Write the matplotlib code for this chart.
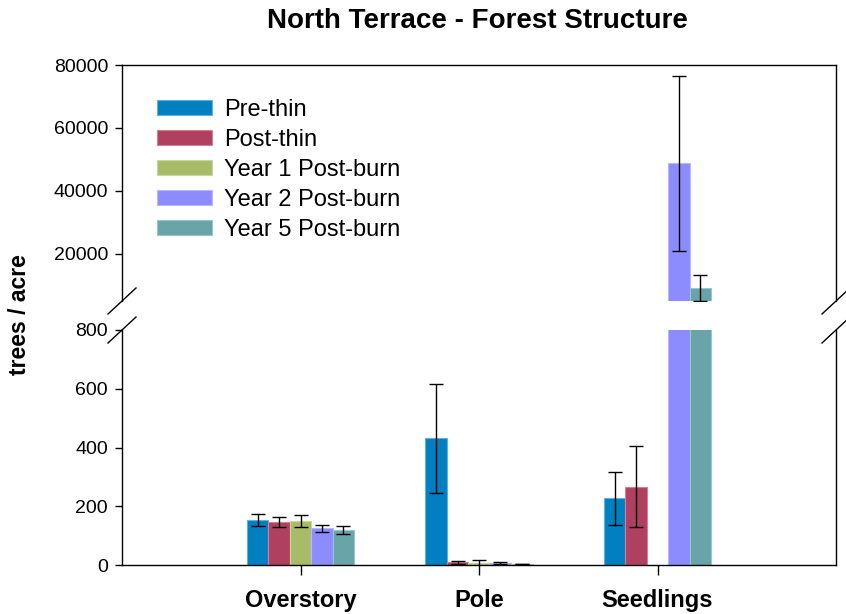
import matplotlib
matplotlib.use("Agg")
import matplotlib.pyplot as plt
import numpy as np

plt.rcParams['font.family'] = ['Liberation Sans', 'DejaVu Sans']

categories = ["Overstory", "Pole", "Seedlings"]
series = ["Pre-thin", "Post-thin", "Year 1 Post-burn", "Year 2 Post-burn", "Year 5 Post-burn"]
pre_thin = [153, 431, 227]
pre_thin_err = [20, 186, 90]
post_thin = [147, 9, 267]
post_thin_err = [16, 6, 137]
year1 = [150, 8, np.nan]
year1_err = [19, 10, np.nan]
year2 = [125, 6, 48700]
year2_err = [11, 3, 27800]
year5 = [119, 2, 9100]
year5_err = [13, 0, 4200]

upper_ticks = [20000, 40000, 60000, 80000]
lower_ticks = [0, 200, 400, 600, 800]

colors = ["#0080C0", "#B04060", "#A8BC68", "#8C8CFF", "#68A4A8"]
edges = ["#60B0E0", "#D08098", "#C8D898", "#B8B8FF", "#98C8CC"]
values = [pre_thin, post_thin, year1, year2, year5]
errors = [pre_thin_err, post_thin_err, year1_err, year2_err, year5_err]

W, H = 846, 614
fig = plt.figure(figsize=(W / 100, H / 100), dpi=100)
left, right = 122 / W, 836 / W
ax_top = fig.add_axes([left, 1 - 301 / H, right - left, 236 / H])
ax_bot = fig.add_axes([left, 1 - 565 / H, right - left, 235 / H])

x = np.arange(1, len(categories) + 1)
width = 0.12
offsets = (np.arange(len(series)) - 2) * width

for ax in (ax_top, ax_bot):
    for i in range(len(series)):
        ax.bar(x + offsets[i], values[i], width, color=colors[i], edgecolor=edges[i],
               linewidth=0.8, yerr=errors[i], capsize=5, label=series[i],
               error_kw=dict(ecolor='black', elinewidth=1.0, capthick=1.0))
    ax.set_xlim(0, 4)
    for s in ax.spines.values():
        s.set_linewidth(1.0)
    ax.tick_params(axis='y', direction='out', length=5, width=1.0, labelsize=14, pad=5, right=False)

ax_top.set_ylim(5000, 80000)
ax_top.set_yticks(upper_ticks)
ax_top.set_yticklabels([str(t) for t in upper_ticks])
ax_top.spines['bottom'].set_visible(False)
ax_top.tick_params(axis='x', bottom=False, labelbottom=False)

ax_bot.set_ylim(0, 800)
ax_bot.set_yticks(lower_ticks)
ax_bot.set_yticklabels([str(t) for t in lower_ticks])
ax_bot.spines['top'].set_visible(False)
ax_bot.set_xticks(x)
ax_bot.set_xticklabels(categories, fontsize=17, fontweight='bold')
ax_bot.tick_params(axis='x', direction='out', length=7, width=1.0, pad=10)

# break marks
axw = (right - left) * W
dx = 14 / axw
dyt = 13 / 236
dyb = 13 / 235
for xx in (0, 1):
    ax_top.plot([xx - dx, xx + dx], [-dyt, dyt], transform=ax_top.transAxes,
                color='black', lw=1.0, clip_on=False)
    ax_bot.plot([xx - dx, xx + dx], [1 - dyb, 1 + dyb], transform=ax_bot.transAxes,
                color='black', lw=1.0, clip_on=False)

handles, labels = ax_top.get_legend_handles_labels()
handles = [h.patches[0] if hasattr(h, 'patches') else h for h in handles]
leg = fig.legend(handles, labels, loc='upper left', bbox_to_anchor=(157 / W, 1 - 99 / H),
                 bbox_transform=fig.transFigure, frameon=False, fontsize=17,
                 handlelength=2.35, handleheight=0.62, handletextpad=0.5,
                 labelspacing=0.34, borderpad=0, borderaxespad=0)

fig.text(477.5 / W, 1 - 21 / H, "North Terrace - Forest Structure", ha='center', va='center',
         fontsize=20, fontweight='bold')
fig.text(20 / W, 1 - 315 / H, "trees / acre", ha='center', va='center', rotation=90,
         fontsize=16.5, fontweight='bold')

fig.savefig("out.png", dpi=100)
